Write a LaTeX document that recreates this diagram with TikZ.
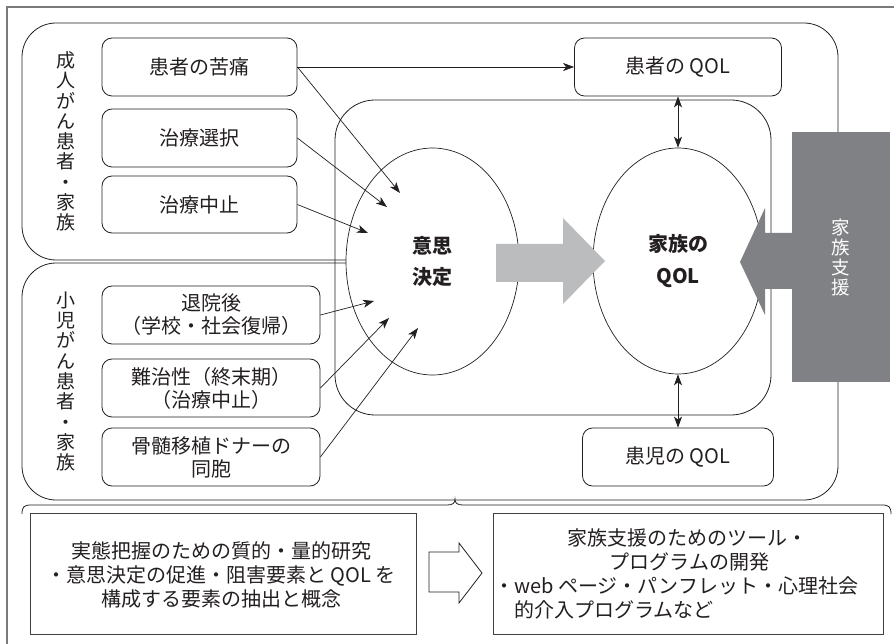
\documentclass[tikz,border=0pt]{standalone}
\usepackage{fontspec}
\setmainfont{Noto Sans CJK JP}
\usetikzlibrary{arrows.meta,shapes.geometric}
\definecolor{ink}{HTML}{231F20}
\definecolor{lgray}{HTML}{BBBCBE}
\definecolor{dgray}{HTML}{808184}
\definecolor{fgray}{HTML}{7A7A7A}
\begin{document}
\begin{tikzpicture}[x=1pt,y=-1pt,line width=0.8pt,color=ink,
  sbox/.style={draw=ink,rounded corners=10pt,inner sep=0pt,align=center,
    font=\fontsize{20}{23}\selectfont,text=ink},
  rbox/.style={draw=black!75,line width=1pt,inner sep=0pt,
    minimum width=#1,minimum height=121pt},
  vlabel/.style={align=center,inner sep=0pt,font=\fontsize{19}{20.3}\selectfont,text=ink},
  conn/.style={line width=0.7pt,-{Stealth[length=11pt,width=8pt,inset=3pt]}},
  dconn/.style={line width=0.7pt,{Stealth[length=11pt,width=8pt,inset=3pt]}-{Stealth[length=11pt,width=8pt,inset=3pt]}},
  oval/.style={ellipse,draw=ink,fill=white,inner sep=0pt,line width=0.7pt},
  ctext/.style={align=center,inner sep=0pt,font=\fontsize{20}{31.5}\selectfont\bfseries,text=ink},
  btext/.style={inner sep=0pt,font=\fontsize{20}{24}\selectfont,text=ink}
]
\useasboundingbox (0,0) rectangle (894,644);
% outer frame
\draw[fgray,line width=1.2pt] (7,644) -- (7,7) -- (894,7);
% group outlines
\draw[rounded corners=34pt] (22,23) rectangle (838,260);
\draw[rounded corners=34pt] (22,263) rectangle (838,500);
\draw[rounded corners=40pt] (335,100) rectangle (771,415);
% vertical group labels
\node[vlabel] (la) at (66,141.5) {成\\人\\が\\ん\\患\\者\\・\\家\\族};
\node[vlabel] (lc) at (66,381.5) {小\\児\\が\\ん\\患\\者\\・\\家\\族};
% adult boxes
\node[sbox,minimum width=195pt,minimum height=58pt] (p1) at (199.5,67) {患者の苦痛};
\node[sbox,minimum width=195pt,minimum height=58pt] (p2) at (199.5,138) {治療選択};
\node[sbox,minimum width=195pt,minimum height=57pt] (p3) at (199.5,204.5) {治療中止};
% child boxes
\node[sbox,minimum width=218pt,minimum height=58pt] (c1) at (211,315) {退院後\\（学校・社会復帰）};
\node[sbox,minimum width=218pt,minimum height=58pt] (c2) at (211,388) {難治性（終末期）\\（治療中止）};
\node[sbox,minimum width=218pt,minimum height=58pt] (c3) at (211,457) {骨髄移植ドナーの\\同胞};
% QOL boxes
\node[sbox,minimum width=207pt,minimum height=58pt] (q1) at (678,67) {患者の QOL};
\node[sbox,minimum width=191pt,minimum height=58pt] (q2) at (678,457) {患児の QOL};
% ellipses
\node[oval,minimum width=173pt,minimum height=227pt] (dm) at (432.5,261.5) {};
\node[oval,minimum width=170pt,minimum height=226pt] (fq) at (678,261) {};
\node[ctext] (dmt) at (dm.center) {意思\\決定};
\node[ctext] (fqt) at (fq.center) {家族の\\QOL};
% arrow tip points
\coordinate (t1) at (400,193);
\coordinate (t2) at (387,207);
\coordinate (t3) at (368,233);
\coordinate (t4) at (374,301);
\coordinate (t5) at (389,318);
\coordinate (t6) at (418,328);
% connectors
\draw[conn] (p1.east) -- (q1.west);
\draw[conn] (p1.east) -- (t1);
\draw[conn] (p2.east) -- (t2);
\draw[conn] (p3.east) -- (t3);
\draw[conn] (c1.east) -- (t4);
\draw[conn] (c2.east) -- (t5);
\draw[conn] (c3.east) -- (t6);
\draw[dconn] (q1.south) -- (fq.north);
\draw[dconn] (q2.north) -- (fq.south);
% big light arrow
\fill[lgray] (496,244) -- (563,244) -- (563,218) -- (605,261) -- (563,304) -- (563,282) -- (496,282) -- cycle;
% family support box and dark arrow
\node[fill=dgray,minimum width=98pt,minimum height=250pt,inner sep=0pt] (fs) at (841,257) {};
\fill[dgray] (793,233) -- (765,233) -- (765,208) -- (740,262) -- (765,315) -- (765,289) -- (793,289) -- cycle;
\node[align=center,inner sep=0pt,text=white,font=\fontsize{18.5}{20}\selectfont] (fst) at (fs.center) {家\\族\\支\\援};
% brace
\draw[line width=0.8pt] (22,514) .. controls (22,507) and (24,505) .. (31,505) -- (447,505)
  .. controls (453,505) and (455,503) .. (455,499)
  .. controls (455,503) and (457,505) .. (463,505) -- (882,505)
  .. controls (889,505) and (891,507) .. (891,514);
% bottom boxes
\node[rbox=386pt] (bl) at (223,573.5) {};
\node[rbox=390pt] (br) at (688,573.5) {};
\node[btext,align=center] (blt) at (221,575) {実態把握のための質的・量的研究\\・意思決定の促進・阻害要素と QOL を\\構成する要素の抽出と概念};
\node[btext,align=left,anchor=west] (brt) at (494,574) {\makebox[386pt][c]{家族支援のためのツール・}\\\makebox[390pt][c]{プログラムの開発}\\・web ページ・パンフレット・心理社会\\\hspace*{20pt}的介入プログラムなど};
% hollow arrow
\draw[line width=0.8pt] (429,552) -- (459,552) -- (459,543) -- (482,573) -- (459,603) -- (459,592) -- (429,592) -- cycle;
\end{tikzpicture}
\end{document}
